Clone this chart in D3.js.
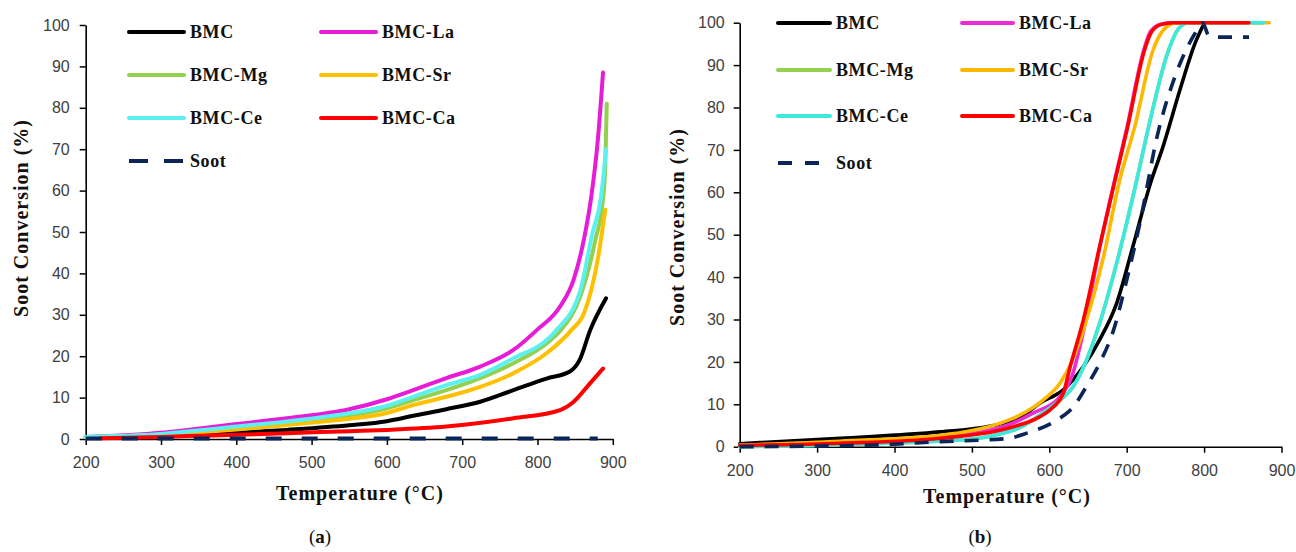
<!DOCTYPE html>
<html><head><meta charset="utf-8">
<script src="https://cdn.jsdelivr.net/npm/d3@7"></script>
<style>
body{margin:0;background:#fff;}
</style></head><body>
<svg id="c" width="1296" height="552"></svg>
<script>
// ---------- shared labels ----------
const seriesNames = ["BMC","BMC-La","BMC-Mg","BMC-Sr","BMC-Ce","BMC-Ca","Soot"];
const xTicks = [200,300,400,500,600,700,800,900];
const yTicks = [0,10,20,30,40,50,60,70,80,90,100];
const xTitle = "Temperature (°C)";
const yTitle = "Soot Conversion (%)";

// ---------- panel (a): [temperature, conversion %] ----------
const a_BMC = [[200,0.4],[300,0.8],[400,1.5],[467,2.2],[550,3.3],[600,4.3],[635,5.6],[679,7.2],[724,9.0],[768,11.8],[812,14.6],[843,16.3],[856,19.1],[870,26.3],[891,34.0]];
const a_La  = [[200,0.5],[300,1.5],[335,2.2],[400,3.6],[467,5.0],[550,7.2],[600,9.6],[635,11.8],[679,14.7],[724,17.5],[768,21.5],[799,26.3],[830,32.0],[848,38.5],[862,48.5],[871,58.0],[880,72.0],[887,88.5]];
const a_Mg  = [[200,0.5],[300,1.1],[335,1.6],[400,2.6],[467,3.8],[550,5.7],[591,7.0],[635,9.4],[679,11.8],[724,14.7],[768,18.3],[812,23.1],[831,26.3],[857,34.5],[877,48.2],[887,58.0],[890,66.0],[892,81.0]];
const a_Sr  = [[200,0.4],[300,1.0],[335,1.4],[400,2.3],[467,3.4],[550,4.9],[591,5.9],[635,8.2],[679,10.2],[724,12.6],[768,15.9],[812,20.7],[845,26.3],[862,30.5],[880,43.4],[890,55.4]];
const a_Ce  = [[200,0.5],[300,1.2],[335,1.8],[400,3.0],[467,4.2],[550,6.2],[591,7.6],[635,10.2],[679,13.0],[724,15.5],[768,19.5],[817,24.7],[825,26.3],[857,36.0],[873,49.8],[884,58.0],[891,70.0]];
const a_Ca  = [[220,0.2],[300,0.5],[335,0.7],[400,1.0],[467,1.4],[550,1.9],[600,2.2],[679,3.0],[768,5.0],[830,7.0],[848,9.0],[870,13.5],[887,17.0]];
const a_Soot= [[200,0.15],[880,0.15]];

// ---------- panel (b): [temperature, conversion %] ----------
const b_BMC = [[200,0.7],[330,2.0],[459,3.5],[523,4.8],[545,5.8],[566,7.3],[588,10.3],[618,13.4],[644,18.9],[665,25.2],[687,33.8],[708,47.2],[732,62.9],[745,69.7],[771,85.5],[788,95.0],[800,99.8]];
const b_La  = [[200,0.3],[330,1.0],[460,2.3],[545,5.0],[579,7.9],[614,11.8],[630,17.0],[645,28.0],[664,46.0],[684,62.5],[700,75.0],[722,93.5],[731,98.0],[745,99.7],[760,100],[858,100]];
const b_Mg  = [[200,0.0],[300,0.3],[400,0.9],[500,1.8],[536,3.0],[560,4.3],[588,7.5],[614,11.0],[631,14.2],[648,20.4],[665,29.1],[687,43.3],[713,62.9],[728,75.2],[754,93.5],[767,98.6],[780,100],[877,100]];
const b_Sr  = [[200,0.4],[330,1.3],[460,2.7],[536,5.5],[558,7.1],[592,11.0],[614,15.0],[629,20.0],[648,29.9],[670,44.8],[691,62.9],[710,75.2],[734,93.5],[749,98.6],[765,100],[884,100]];
const b_Ce  = [[200,0.0],[300,0.3],[400,0.9],[500,1.8],[536,3.0],[560,4.3],[588,7.5],[614,11.0],[631,14.2],[648,20.4],[665,29.1],[687,43.3],[713,62.9],[728,75.2],[754,93.5],[767,98.6],[780,100],[877,100]];
const b_Ca  = [[200,0.3],[330,0.8],[459,2.0],[545,4.3],[588,7.1],[601,8.7],[618,12.6],[627,18.9],[644,29.9],[665,47.2],[685,62.9],[701,75.2],[723,93.5],[732,97.8],[745,99.6],[760,100],[858,100]];
const b_Soot= [[200,0.0],[373,0.4],[459,1.2],[545,1.9],[571,3.2],[610,6.3],[631,9.4],[648,14.2],[665,19.7],[683,27.5],[700,39.3],[717,52.7],[740,73.7],[762,87.1],[788,97.4],[798,100],[806,97.0],[820,96.6],[858,96.6]];

const colorsA = ["#000000","#E61CD9","#92D050","#FFC000","#5DF0F0","#FF0000","#0B2559"];
const colorsB = ["#000000","#EE2BD3","#92D050","#FFB800","#3DE8DE","#FF0000","#0B2559"];

const svg = d3.select("#c");
const serif = "'Liberation Serif','Times New Roman',serif";
const narrow = "'Liberation Sans Narrow','Arial Narrow','Liberation Sans',sans-serif";

function panel(cfg){
  const x = d3.scaleLinear().domain([200,900]).range([cfg.x0,cfg.x1]);
  const y = d3.scaleLinear().domain([0,100]).range([cfg.y0,cfg.y1]);
  const g = svg.append("g");

  const ax = g.append("g").attr("transform",`translate(0,${cfg.y0})`)
    .call(d3.axisBottom(x).tickValues(xTicks).tickSize(6).tickSizeOuter(0).tickPadding(12).tickFormat(d3.format("d")));
  const ay = g.append("g").attr("transform",`translate(${cfg.x0},0)`)
    .call(d3.axisLeft(y).tickValues(yTicks).tickSize(6).tickSizeOuter(0).tickPadding(cfg.ypad).tickFormat(d3.format("d")));
  [ax,ay].forEach(a=>{
    a.select(".domain").attr("stroke","#000").attr("stroke-width",1.6);
    a.selectAll(".tick line").attr("stroke","#000").attr("stroke-width",1.5);
    a.selectAll(".tick text").attr("font-family",narrow).attr("font-size",16).attr("fill","#404040");
  });

  const line = d3.line().x(d=>x(d[0])).y(d=>y(d[1])).curve(d3.curveMonotoneX);
  cfg.data.forEach((s,i)=>{
    const p = g.append("path").datum(s).attr("d",line).attr("fill","none")
      .attr("stroke",cfg.colors[i]).attr("stroke-width",cfg.lw)
      .attr("stroke-linejoin","round").attr("stroke-linecap", i===6?"butt":"round");
    if(i===6) p.attr("stroke-dasharray",cfg.dash);
  });

  // legend
  const order = [[0,0],[1,1],[0,2],[1,3],[0,4],[1,5],[0,6]]; // [col,row-index] mapping below
  seriesNames.forEach((name,i)=>{
    const col = i===6?0:(i%2), row = i===6?3:Math.floor(i/2);
    const lx0 = cfg.legX[col][0], lx1 = cfg.legX[col][1], tx = cfg.legX[col][2];
    const ly = cfg.legY[row];
    const l = g.append("line").attr("x1",lx0).attr("x2",i===6?cfg.sootEnd:lx1).attr("y1",ly).attr("y2",ly)
      .attr("stroke",cfg.colors[i]).attr("stroke-width",4).attr("stroke-linecap",i===6?"butt":"round");
    if(i===6) l.attr("stroke-dasharray",cfg.legDash);
    g.append("text").attr("x",tx).attr("y",ly+6).text(name)
      .attr("font-family",serif).attr("font-weight","bold").attr("font-size",18).attr("letter-spacing",0.6).attr("fill","#111");
  });

  // titles
  g.append("text").attr("x",cfg.xtX).attr("y",cfg.xtY).attr("text-anchor","middle")
    .attr("font-family",serif).attr("font-weight","bold").attr("font-size",20).attr("letter-spacing",1)
    .attr("fill","#111").text(xTitle);
  g.append("text").attr("transform",`translate(${cfg.ytX},${cfg.ytY}) rotate(-90)`).attr("text-anchor","middle")
    .attr("font-family",serif).attr("font-weight","bold").attr("font-size",20).attr("letter-spacing",1)
    .attr("fill","#111").text(yTitle);
  const cap = g.append("text").attr("x",cfg.capX).attr("y",543).attr("text-anchor","middle")
    .attr("font-family",serif).attr("font-size",19).attr("fill","#111");
  cap.append("tspan").text("(");
  cap.append("tspan").attr("font-weight","bold").text(cfg.label);
  cap.append("tspan").text(")");
}

panel({x0:85.7,x1:612.8,y0:439,y1:25,ypad:10,lw:4,dash:"16,20",
  data:[a_BMC,a_La,a_Mg,a_Sr,a_Ce,a_Ca,a_Soot],colors:colorsA,
  legX:[[129,184,190],[321,376,382]],legY:[32,75,118,161],sootEnd:184,legDash:"19,16",
  xtX:360,xtY:500,ytX:28,ytY:218,capX:320,label:"a"});
panel({x0:739.7,x1:1281.5,y0:446.7,y1:22.7,ypad:9,lw:3.6,dash:"14,11",
  data:[b_BMC,b_La,b_Mg,b_Sr,b_Ce,b_Ca,b_Soot],colors:colorsB,
  legX:[[778,830,836],[962,1013,1019]],legY:[23,70,116,163],sootEnd:819,legDash:"14,13",
  xtX:1007,xtY:503,ytX:684,ytY:227,capX:980,label:"b"});
</script>
</body></html>
